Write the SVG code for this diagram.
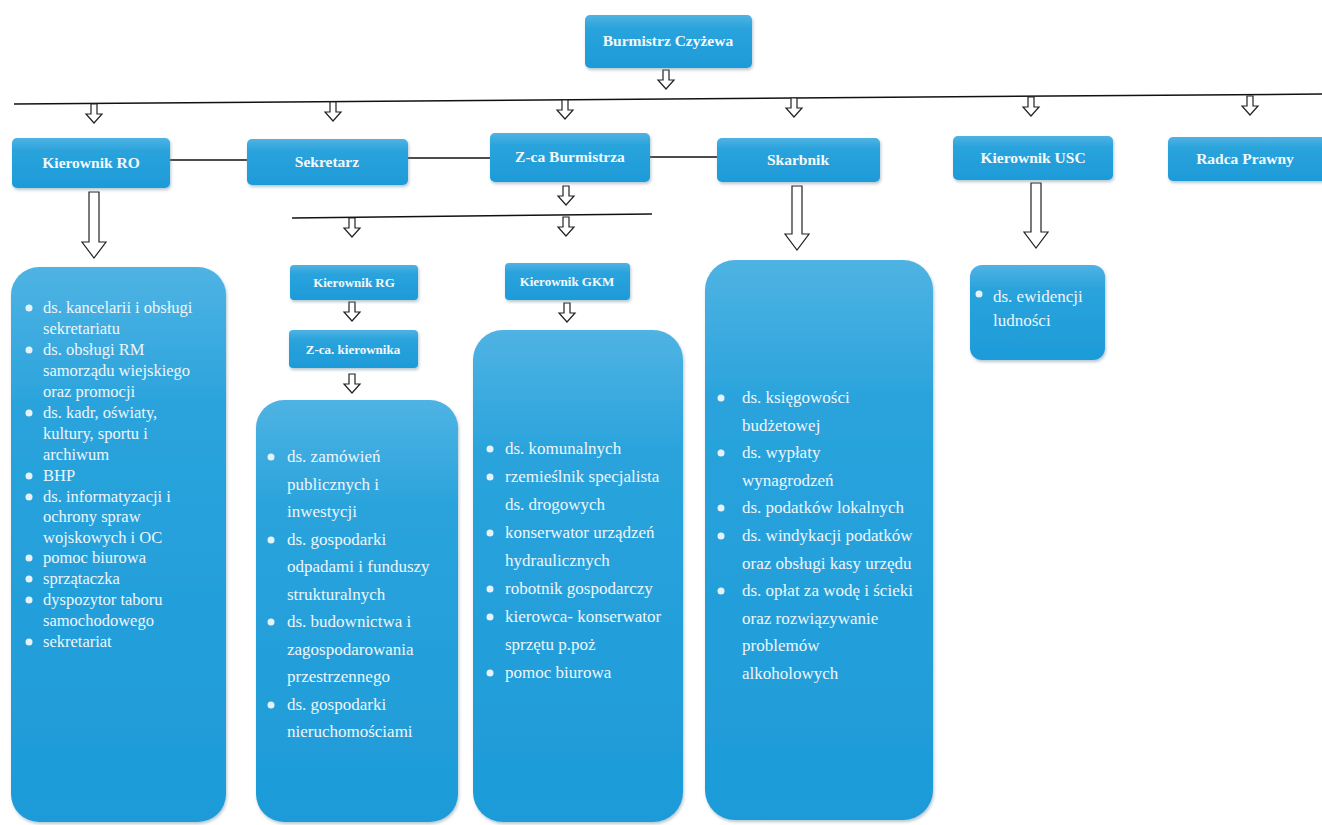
<svg xmlns="http://www.w3.org/2000/svg" xmlns:xlink="http://www.w3.org/1999/xlink" width="1322" height="825" viewBox="0 0 1322 825">
<defs>
<linearGradient id="g" x1="0" y1="0" x2="0" y2="1">
<stop offset="0" stop-color="#4fb3e3"/>
<stop offset="0.25" stop-color="#2aa3dc"/>
<stop offset="1" stop-color="#1d9bd8"/>
</linearGradient>
<path id="sa" d="M-3,0 H3 V10 H8 L0,19 L-8,10 H-3 Z"/>
<filter id="sh" x="-5%" y="-5%" width="110%" height="115%">
<feDropShadow dx="1" dy="2" stdDeviation="1.5" flood-color="#6a8fa3" flood-opacity="0.5"/>
</filter>
</defs>
<style>
.box{fill:url(#g);filter:url(#sh)}
.hd{font-family:"Liberation Serif",serif;font-weight:bold;font-size:15.5px;fill:#f4f9fc;text-anchor:middle}
.sm{font-family:"Liberation Serif",serif;font-weight:bold;font-size:13px;fill:#f4f9fc;text-anchor:middle}
.li{font-family:"Liberation Serif",serif;font-size:17px;fill:#eef6fb}
.lr{font-family:"Liberation Serif",serif;font-size:16.5px;fill:#eef6fb}
.bu{fill:#e6f2f9}
.ln{stroke:#111;stroke-width:1.5;fill:none}
.ar{fill:#fff;stroke:#222;stroke-width:1.2}
</style>
<rect width="1322" height="825" fill="#fff"/>

<g id="connectors">
<line class="ln" x1="14" y1="104" x2="1322" y2="94"/>
<line class="ln" x1="170" y1="160" x2="247" y2="160"/>
<line class="ln" x1="408" y1="158" x2="490" y2="158"/>
<line class="ln" x1="650" y1="157" x2="717" y2="157"/>
<line class="ln" x1="292" y1="218" x2="652" y2="214"/>
<use href="#sa" class="ar" x="666" y="70"/>
<use href="#sa" class="ar" x="94" y="104"/>
<use href="#sa" class="ar" x="333" y="102"/>
<use href="#sa" class="ar" x="565" y="100"/>
<use href="#sa" class="ar" x="794" y="98"/>
<use href="#sa" class="ar" x="1031" y="97"/>
<use href="#sa" class="ar" x="1250" y="96"/>
<use href="#sa" class="ar" x="566" y="186"/>
<use href="#sa" class="ar" x="352" y="218"/>
<use href="#sa" class="ar" x="566" y="217"/>
<use href="#sa" class="ar" x="352" y="302"/>
<use href="#sa" class="ar" x="352" y="374"/>
<use href="#sa" class="ar" x="567" y="303"/>
<path class="ar" d="M89,192 H99 V242 H106 L94,258 L82,242 H89 Z"/>
<path class="ar" d="M792,186 H802 V234 H809 L797,250 L785,234 H792 Z"/>
<path class="ar" d="M1031,183 H1041 V232 H1048 L1036,248 L1024,232 H1031 Z"/>
</g>

<g id="burmistrz"><rect class="box" x="585" y="15" width="167" height="53" rx="5"/><text class="hd" x="668" y="46">Burmistrz Czyżewa</text></g>
<g id="kierownik-ro"><rect class="box" x="12" y="138" width="158" height="50" rx="5"/><text class="hd" x="91" y="168">Kierownik RO</text></g>
<g id="sekretarz"><rect class="box" x="247" y="139" width="161" height="46" rx="5"/><text class="hd" x="327" y="167">Sekretarz</text></g>
<g id="zca-burmistrza"><rect class="box" x="490" y="133" width="160" height="49" rx="5"/><text class="hd" x="570" y="162">Z-ca Burmistrza</text></g>
<g id="skarbnik"><rect class="box" x="717" y="138" width="163" height="44" rx="5"/><text class="hd" x="798" y="165">Skarbnik</text></g>
<g id="kierownik-usc"><rect class="box" x="953" y="136" width="160" height="44" rx="5"/><text class="hd" x="1033" y="163">Kierownik USC</text></g>
<g id="radca"><rect class="box" x="1168" y="137" width="165" height="44" rx="5"/><text class="hd" x="1245" y="164">Radca Prawny</text></g>
<g id="kierownik-rg"><rect class="box" x="290" y="265" width="128" height="35" rx="4"/><text class="sm" x="354" y="287">Kierownik RG</text></g>
<g id="zca-kierownika"><rect class="box" x="289" y="330" width="129" height="38" rx="4"/><text class="sm" x="353" y="354">Z-ca. kierownika</text></g>
<g id="kierownik-gkm"><rect class="box" x="505" y="263" width="125" height="37" rx="4"/><text class="sm" x="567" y="286">Kierownik GKM</text></g>

<g id="lista-ro">
<rect class="box" x="11" y="267" width="215" height="555" rx="28"/>
<g class="bu"><circle cx="29" cy="308" r="3.5"/><circle cx="29" cy="350" r="3.5"/><circle cx="29" cy="413" r="3.5"/><circle cx="29" cy="476" r="3.5"/><circle cx="29" cy="497" r="3.5"/><circle cx="29" cy="558" r="3.5"/><circle cx="29" cy="579" r="3.5"/><circle cx="29" cy="600" r="3.5"/><circle cx="29" cy="642" r="3.5"/></g>
<text class="lr" x="43" y="313">ds. kancelarii i obsługi</text>
<text class="lr" x="43" y="334">sekretariatu</text>
<text class="lr" x="43" y="355">ds. obsługi RM</text>
<text class="lr" x="43" y="376">samorządu wiejskiego</text>
<text class="lr" x="43" y="397">oraz promocji</text>
<text class="lr" x="43" y="418">ds. kadr, oświaty,</text>
<text class="lr" x="43" y="439">kultury, sportu i</text>
<text class="lr" x="43" y="460">archiwum</text>
<text class="lr" x="43" y="481">BHP</text>
<text class="lr" x="43" y="502">ds. informatyzacji i</text>
<text class="lr" x="43" y="522">ochrony spraw</text>
<text class="lr" x="43" y="543">wojskowych i OC</text>
<text class="lr" x="43" y="563">pomoc biurowa</text>
<text class="lr" x="43" y="584">sprzątaczka</text>
<text class="lr" x="43" y="605">dyspozytor  taboru</text>
<text class="lr" x="43" y="626">samochodowego</text>
<text class="lr" x="43" y="647">sekretariat</text>
</g>

<g id="lista-rg">
<rect class="box" x="256" y="400" width="202" height="422" rx="28"/>
<g class="bu"><circle cx="271" cy="457" r="3.5"/><circle cx="271" cy="540" r="3.5"/><circle cx="271" cy="622" r="3.5"/><circle cx="271" cy="705" r="3.5"/></g>
<text class="li" x="287" y="462">ds. zamówień</text>
<text class="li" x="287" y="490">publicznych i</text>
<text class="li" x="287" y="517">inwestycji</text>
<text class="li" x="287" y="545">ds. gospodarki</text>
<text class="li" x="287" y="572">odpadami i funduszy</text>
<text class="li" x="287" y="600">strukturalnych</text>
<text class="li" x="287" y="627">ds. budownictwa i</text>
<text class="li" x="287" y="655">zagospodarowania</text>
<text class="li" x="287" y="682">przestrzennego</text>
<text class="li" x="287" y="710">ds. gospodarki</text>
<text class="li" x="287" y="737">nieruchomościami</text>
</g>

<g id="lista-gkm">
<rect class="box" x="473" y="330" width="210" height="492" rx="30"/>
<g class="bu"><circle cx="490" cy="449" r="3.5"/><circle cx="490" cy="477" r="3.5"/><circle cx="490" cy="533" r="3.5"/><circle cx="490" cy="589" r="3.5"/><circle cx="490" cy="617" r="3.5"/><circle cx="490" cy="673" r="3.5"/></g>
<text class="li" x="505" y="454">ds. komunalnych</text>
<text class="li" x="505" y="482">rzemieślnik specjalista</text>
<text class="li" x="505" y="510">ds. drogowych</text>
<text class="li" x="505" y="538">konserwator urządzeń</text>
<text class="li" x="505" y="566">hydraulicznych</text>
<text class="li" x="505" y="594">robotnik gospodarczy</text>
<text class="li" x="505" y="622">kierowca- konserwator</text>
<text class="li" x="505" y="650">sprzętu p.poż</text>
<text class="li" x="505" y="678">pomoc biurowa</text>
</g>

<g id="lista-skarbnik">
<rect class="box" x="705" y="260" width="228" height="560" rx="30"/>
<g class="bu"><circle cx="721" cy="398" r="3.5"/><circle cx="721" cy="453" r="3.5"/><circle cx="721" cy="508" r="3.5"/><circle cx="721" cy="536" r="3.5"/><circle cx="721" cy="591" r="3.5"/></g>
<text class="li" x="742" y="403">ds. księgowości</text>
<text class="li" x="742" y="431">budżetowej</text>
<text class="li" x="742" y="458">ds. wypłaty</text>
<text class="li" x="742" y="486">wynagrodzeń</text>
<text class="li" x="742" y="513">ds. podatków lokalnych</text>
<text class="li" x="742" y="541">ds. windykacji podatków</text>
<text class="li" x="742" y="569">oraz obsługi kasy urzędu</text>
<text class="li" x="742" y="596">ds. opłat za wodę i ścieki</text>
<text class="li" x="742" y="624">oraz rozwiązywanie</text>
<text class="li" x="742" y="651">problemów</text>
<text class="li" x="742" y="679">alkoholowych</text>
</g>

<g id="lista-usc">
<rect class="box" x="970" y="265" width="135" height="95" rx="12"/>
<circle class="bu" cx="979" cy="294" r="3.5"/>
<text class="li" x="993" y="302">ds. ewidencji</text>
<text class="li" x="993" y="326">ludności</text>
</g>
</svg>
